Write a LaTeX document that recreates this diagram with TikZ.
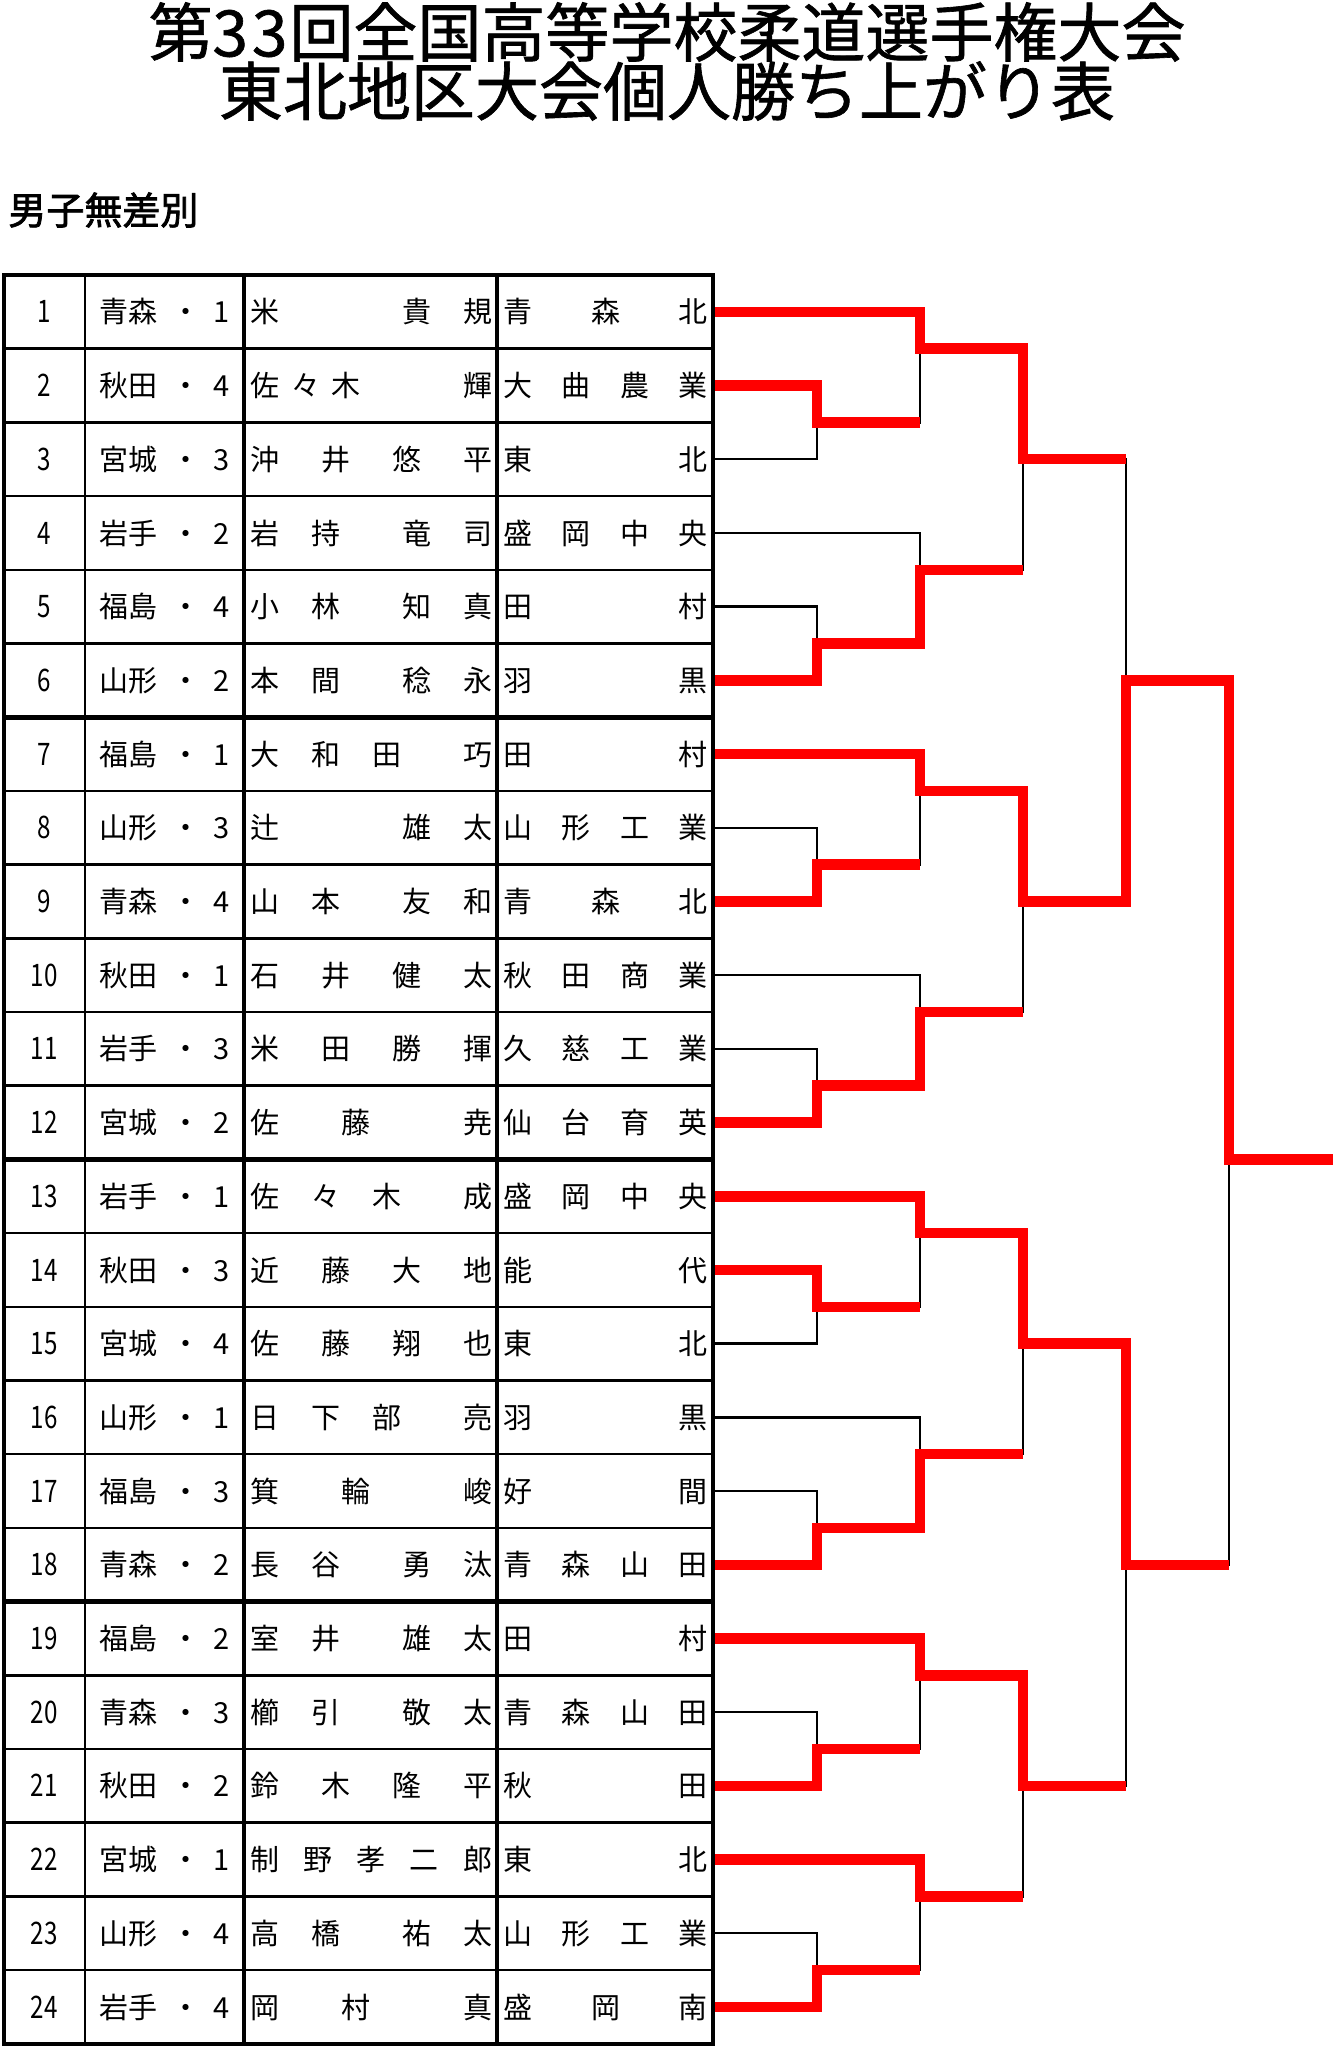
\documentclass[tikz,border=0pt]{standalone}
\usepackage{fontspec}
\usepackage{graphicx}
\setmainfont{Noto Sans CJK JP}[AutoFakeBold=2]
\newfontfamily\headfont{Noto Sans CJK JP}[FakeBold=1]
\usetikzlibrary{calc}

\tikzset{
  gridthin/.style={line width=1.25pt},
  gridmid/.style={line width=1.75pt},
  gridthick/.style={line width=2.4pt},
  loseline/.style={line width=1.2pt},
  winline/.style={red, line width=5.25pt, line join=miter},
  cellchar/.style={inner sep=0pt, text height=12.8pt, text depth=1.7pt, font=\fontsize{14.5pt}{17pt}\selectfont},
  titletext/.style={inner sep=0pt, font=\headfont\fontsize{32pt}{36pt}\selectfont},
}

\begin{document}
\begin{tikzpicture}[x=0.5pt, y=-0.5pt]
  \useasboundingbox (0,0) rectangle (1333,2048);

  % Title
  \node[titletext] (title1) at (667,32) {第3\kern2pt3\kern1pt回全国高等学校柔道選手権大会};
  \node[titletext] (title2) at (667,91) {東北地区大会個人勝ち上がり表};
  \node[anchor=west, inner sep=0pt, font=\fontsize{19pt}{22pt}\selectfont\bfseries] (cat) at (8,210) {男子無差別};

  % Player ends and match points
  \foreach \i in {1,...,24} {
    \coordinate (p\i) at (713, {275+73.7*(\i-0.5)});
  }
  \foreach \g in {1,...,4} {
    \pgfmathtruncatemacro\k{6*(\g-1)}
    \coordinate (a\g) at (817, {275+73.7*(\k+2)});
    \coordinate (b\g) at (920, {275+73.7*(\k+1)});
    \coordinate (c\g) at (817, {275+73.7*(\k+5)});
    \coordinate (d\g) at (920, {275+73.7*(\k+4)});
    \coordinate (e\g) at (1023, {275+73.7*(\k+2.5)});
  }
  \coordinate (s1) at (1126, {275+73.7*5.5});
  \coordinate (s2) at (1126, {275+73.7*17.5});
  \coordinate (f) at (1229, {275+73.7*12});
  \coordinate (w) at (1333, {275+73.7*12});

  % Bracket
  \foreach \g/\s in {1/s1,2/s1,3/s2,4/s2} {
    \pgfmathtruncatemacro\pone{6*(\g-1)+1}
    \pgfmathtruncatemacro\ptwo{6*(\g-1)+2}
    \pgfmathtruncatemacro\pthree{6*(\g-1)+3}
    \pgfmathtruncatemacro\pfour{6*(\g-1)+4}
    \pgfmathtruncatemacro\pfive{6*(\g-1)+5}
    \pgfmathtruncatemacro\psix{6*(\g-1)+6}
    \draw[loseline] (p\pone) -| (b\g) -| (e\g) -| (\s) -| (f) -- (w);
    \draw[loseline] (p\ptwo) -| (a\g) -| (b\g);
    \draw[loseline] (p\pthree) -| (a\g);
    \draw[loseline] (p\pfour) -| (d\g) -| (e\g);
    \draw[loseline] (p\pfive) -| (c\g) -| (d\g);
    \draw[loseline] (p\psix) -| (c\g);
  }

  % Winners
  \draw[winline] (p1) -| (b1) -| (e1) -- (e1 -| s1);
  \draw[winline] (p2) -| (a1) -- (a1 -| b1);
  \draw[winline] (p6) -| (c1) -| (d1) -- (d1 -| e1);
  \draw[winline] (p7) -| (b2) -| (e2) -| (s1) -| (f) -- (w);
  \draw[winline] (p9) -| (a2) -- (a2 -| b2);
  \draw[winline] (p12) -| (c2) -| (d2) -- (d2 -| e2);
  \draw[winline] (p13) -| (b3) -| (e3) -| (s2) -- (s2 -| f);
  \draw[winline] (p14) -| (a3) -- (a3 -| b3);
  \draw[winline] (p18) -| (c3) -| (d3) -- (d3 -| e3);
  \draw[winline] (p19) -| (b4) -| (e4) -- (e4 -| s2);
  \draw[winline] (p21) -| (a4) -- (a4 -| b4);
  \draw[winline] (p22) -| (d4) -- (d4 -| e4);
  \draw[winline] (p24) -| (c4) -- (c4 -| d4);

  % Table rules
  \foreach \i in {1,...,23} {
    \draw[gridthin] (4,{275+73.7*\i}) -- (713,{275+73.7*\i});
  }
  \foreach \i in {6,12,18} {
    \draw[gridthick] (4,{275+73.7*\i}) -- (713,{275+73.7*\i});
  }
  \draw[gridthin] (85,275) -- (85,2044);
  \draw[gridthick] (244,275) -- (244,2044);
  \draw[gridmid] (497,275) -- (497,2044);
  \draw[gridthick] (4,275) rectangle (713,2044);

  % Table text
  \foreach \idx/\pref/\yr/\who/\school in {
    1/青森/1/{0/米,15/貴,21/規}/{0/青,3/森,6/北},
    2/秋田/4/{0/佐,4/々,8/木,21/輝}/{0/大,2/曲,4/農,6/業},
    3/宮城/3/{0/沖,7/井,14/悠,21/平}/{0/東,6/北},
    4/岩手/2/{0/岩,6/持,15/竜,21/司}/{0/盛,2/岡,4/中,6/央},
    5/福島/4/{0/小,6/林,15/知,21/真}/{0/田,6/村},
    6/山形/2/{0/本,6/間,15/稔,21/永}/{0/羽,6/黒},
    7/福島/1/{0/大,6/和,12/田,21/巧}/{0/田,6/村},
    8/山形/3/{0/辻,15/雄,21/太}/{0/山,2/形,4/工,6/業},
    9/青森/4/{0/山,6/本,15/友,21/和}/{0/青,3/森,6/北},
    10/秋田/1/{0/石,7/井,14/健,21/太}/{0/秋,2/田,4/商,6/業},
    11/岩手/3/{0/米,7/田,14/勝,21/揮}/{0/久,2/慈,4/工,6/業},
    12/宮城/2/{0/佐,9/藤,21/尭}/{0/仙,2/台,4/育,6/英},
    13/岩手/1/{0/佐,6/々,12/木,21/成}/{0/盛,2/岡,4/中,6/央},
    14/秋田/3/{0/近,7/藤,14/大,21/地}/{0/能,6/代},
    15/宮城/4/{0/佐,7/藤,14/翔,21/也}/{0/東,6/北},
    16/山形/1/{0/日,6/下,12/部,21/亮}/{0/羽,6/黒},
    17/福島/3/{0/箕,9/輪,21/峻}/{0/好,6/間},
    18/青森/2/{0/長,6/谷,15/勇,21/汰}/{0/青,2/森,4/山,6/田},
    19/福島/2/{0/室,6/井,15/雄,21/太}/{0/田,6/村},
    20/青森/3/{0/櫛,6/引,15/敬,21/太}/{0/青,2/森,4/山,6/田},
    21/秋田/2/{0/鈴,7/木,14/隆,21/平}/{0/秋,6/田},
    22/宮城/1/{0/制,5.25/野,10.5/孝,15.75/二,21/郎}/{0/東,6/北},
    23/山形/4/{0/高,6/橋,15/祐,21/太}/{0/山,2/形,4/工,6/業},
    24/岩手/4/{0/岡,9/村,21/真}/{0/盛,3/岡,6/南}} {
    \pgfmathsetmacro\yy{275+73.7*(\idx-0.5)}
    \node[cellchar, font=\fontsize{15.5pt}{17pt}\selectfont] (no\idx) at (44,\yy) {\scalebox{0.78}[1]{\idx}};
    \node[cellchar] (pr\idx) at (128,\yy) {\pref};
    \node[cellchar] (dot\idx) at (186,\yy) {・};
    \node[cellchar] (yr\idx) at (222,\yy) {\yr};
    \foreach \pos/\ch [count=\j] in \who {
      \node[cellchar] (nm\idx-\j) at ({265.4+10.1*\pos},\yy) {\ch};
    }
    \foreach \pos/\ch [count=\j] in \school {
      \node[cellchar] (sc\idx-\j) at ({518+29.2*\pos},\yy) {\ch};
    }
  }
\end{tikzpicture}
\end{document}
